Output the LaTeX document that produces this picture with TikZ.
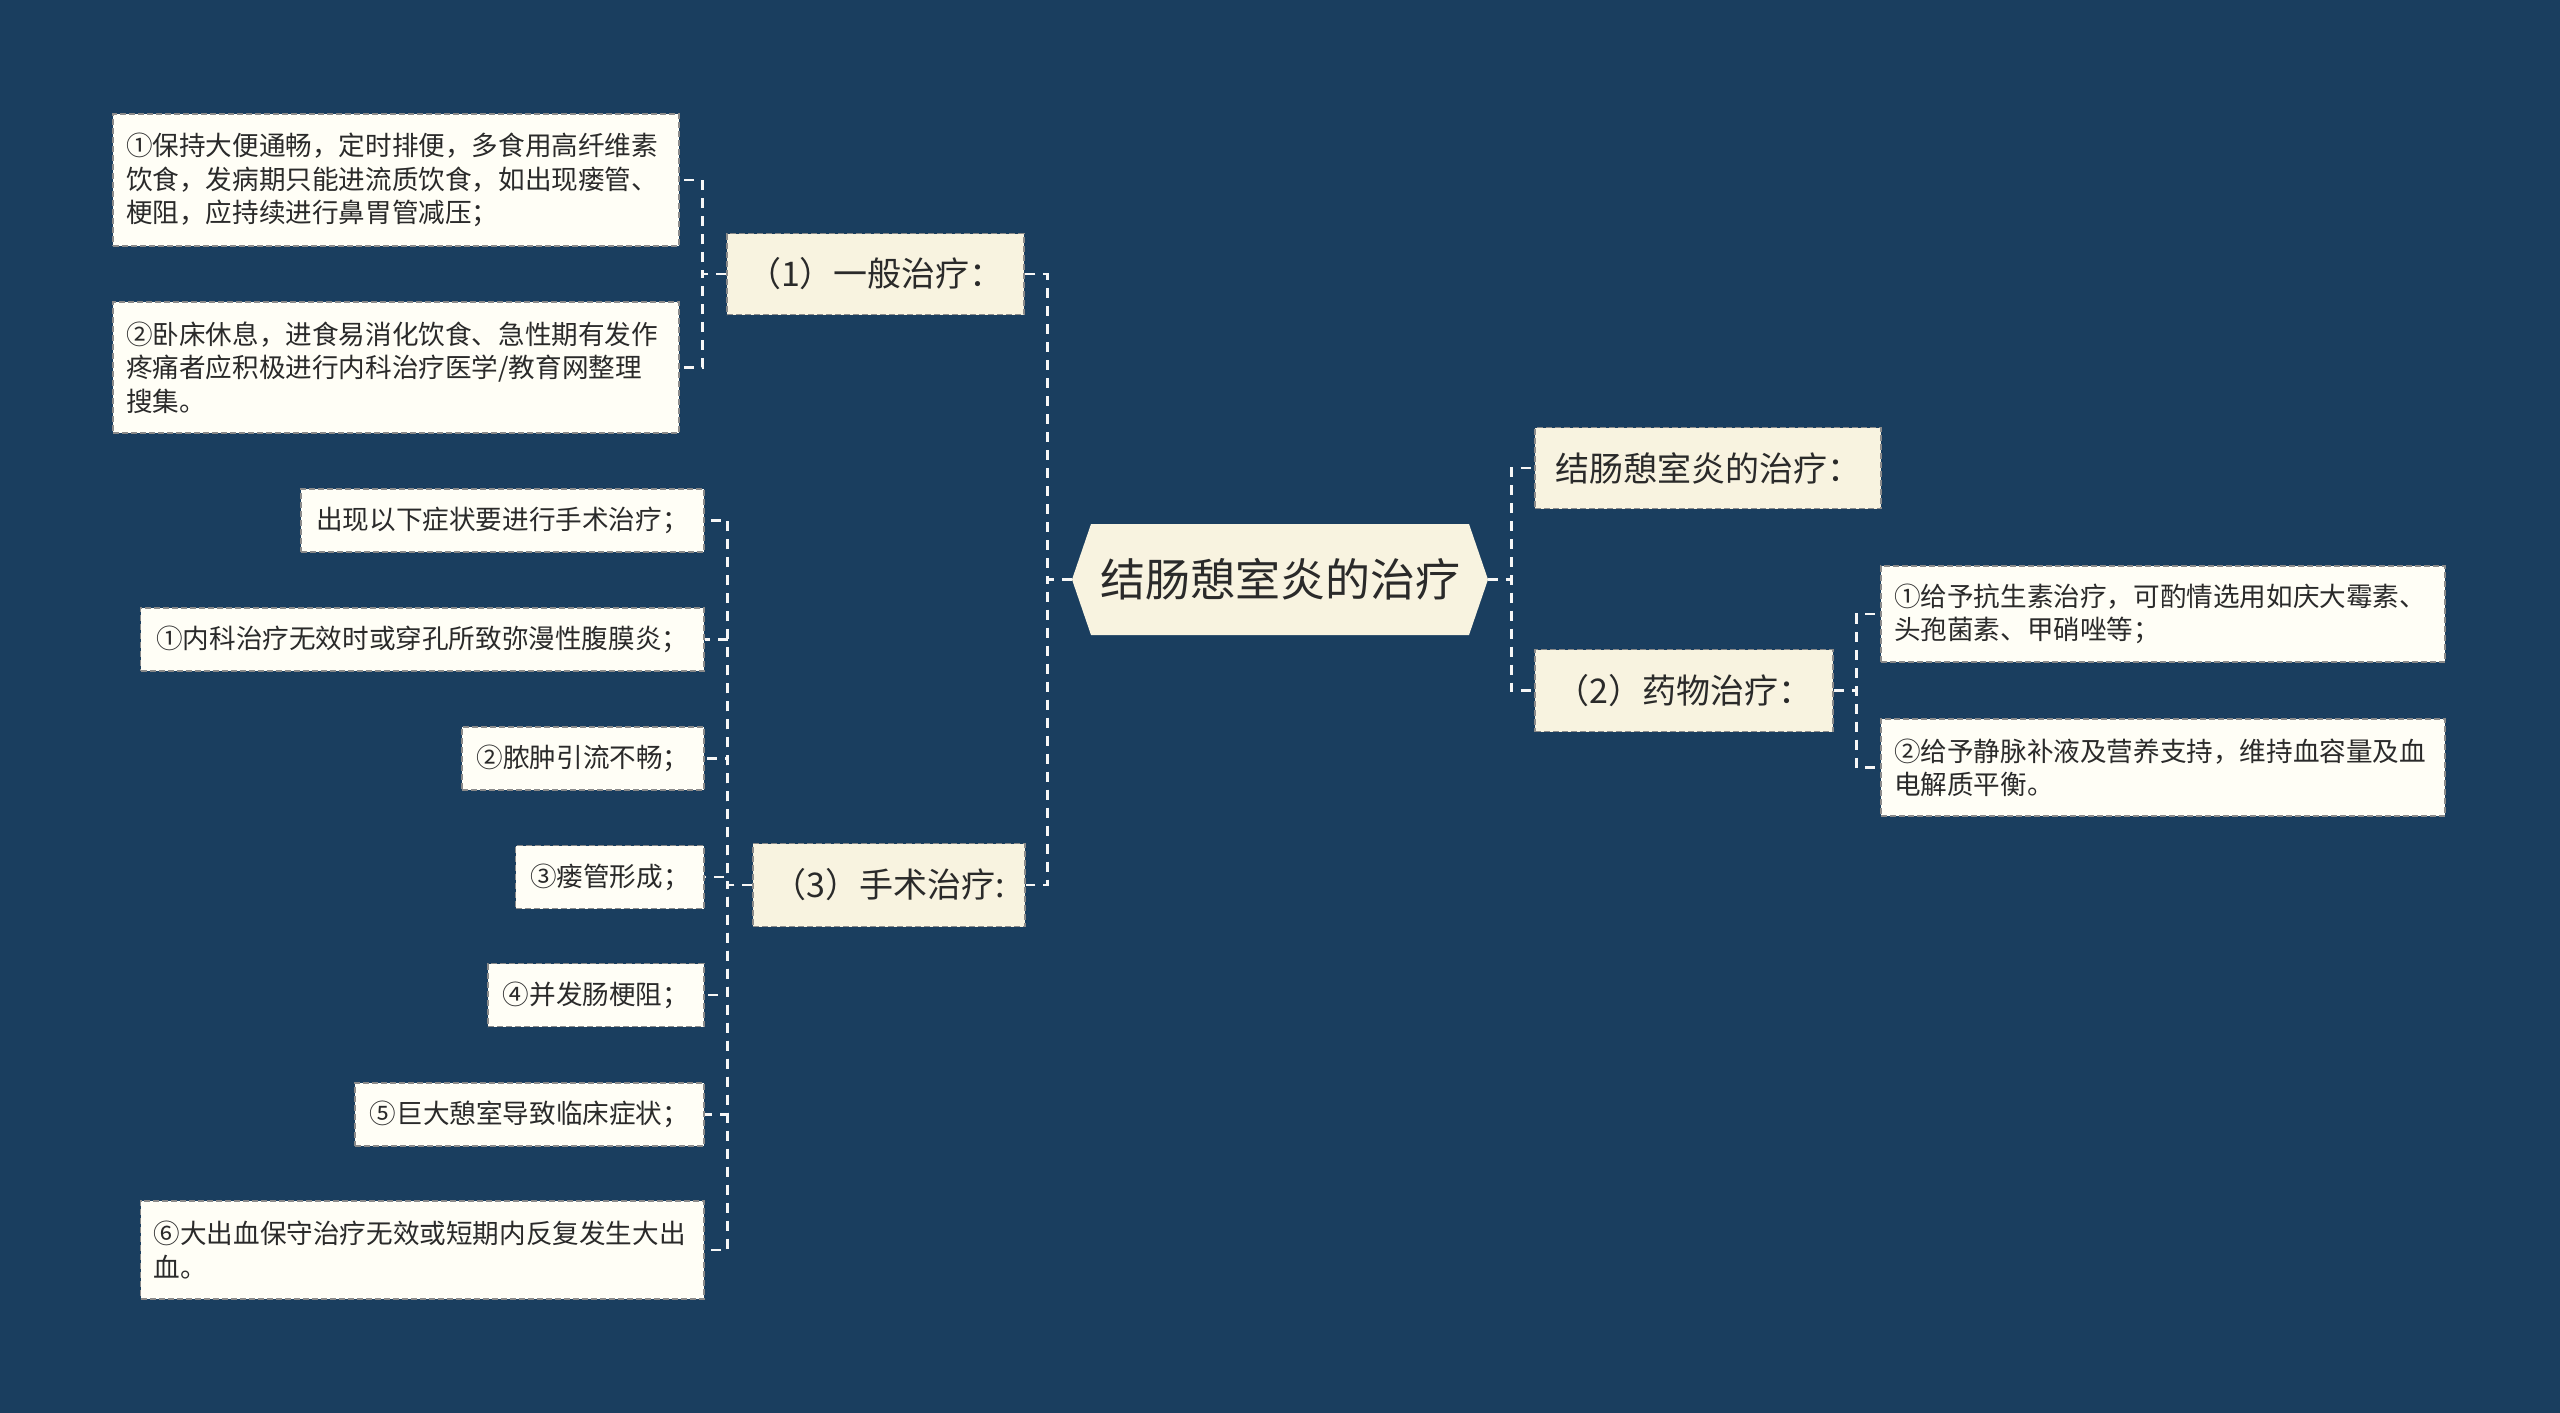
\documentclass[tikz,border=0pt]{standalone}
\usepackage{fontspec}
\setmainfont{Noto Sans CJK SC}
\definecolor{bgc}{HTML}{1A3E5F}
\definecolor{leaffill}{HTML}{FFFEF6}
\definecolor{lvlfill}{HTML}{F8F3E0}
\definecolor{boxline}{HTML}{8A8A8A}
\definecolor{txt}{HTML}{2A2A2A}
\definecolor{connc}{HTML}{F6F6F6}
\begin{document}
\begin{tikzpicture}[x=1pt,y=-1pt,
  leaf/.style={draw=boxline, fill=leaffill, dash pattern=on 6pt off 3pt, line width=1.6pt,
    inner xsep=13pt, inner ysep=4pt, text=txt, font=\fontsize{26.6}{33.3}\selectfont,
    minimum height=63pt},
  lvl/.style={draw=boxline, fill=lvlfill, dash pattern=on 6pt off 3pt, line width=1.6pt,
    inner sep=2pt, text=txt, font=\fontsize{34}{40}\selectfont, minimum height=81pt},
  rootnode/.style={fill=bgc, inner sep=0pt, minimum width=416pt, minimum height=111pt,
    text=txt, font=\fontsize{45}{54}\selectfont,
    path picture={\fill[lvlfill] ([xshift=19pt]path picture bounding box.north west)
      -- ([xshift=-19pt]path picture bounding box.north east)
      -- (path picture bounding box.east)
      -- ([xshift=-19pt]path picture bounding box.south east)
      -- ([xshift=19pt]path picture bounding box.south west)
      -- (path picture bounding box.west) -- cycle;}},
  conn/.style={draw=connc, line width=2.8pt, dash pattern=on 10pt off 8pt}
]
\useasboundingbox (0,0) rectangle (2560,1413);
\fill[bgc] (0,0) rectangle (2560,1413);

% root
\node[rootnode] (root) at (1280,579.5) {结肠憩室炎的治疗};

% level 1
\node[lvl, minimum width=297pt] (n1) at (875.5,274) {（1）一般治疗：};
\node[lvl, minimum width=272pt, minimum height=83pt] (n3) at (889,885) {（3）手术治疗:};
\node[lvl, minimum width=346pt] (nA) at (1708,468) {结肠憩室炎的治疗：};
\node[lvl, minimum width=298pt, minimum height=82pt] (n2) at (1684,690.5) {（2）药物治疗：};

% leaves of (1)
\node[leaf, text width=540pt, align=left, minimum height=132pt] (a1) at (396,180)
  {①保持大便通畅，定时排便，多食用高纤维素\\饮食，发病期只能进流质饮食，如出现瘘管、\\梗阻，应持续进行鼻胃管减压；};
\node[leaf, text width=540pt, align=left, minimum height=131pt] (a2) at (396,367.5)
  {②卧床休息，进食易消化饮食、急性期有发作\\疼痛者应积极进行内科治疗医学/教育网整理\\搜集。};

% leaves of (3)
\node[leaf, minimum width=403pt] (c0) at (502.5,520.5) {出现以下症状要进行手术治疗；};
\node[leaf, minimum width=563.4pt] (c1) at (422.3,639.5) {①内科治疗无效时或穿孔所致弥漫性腹膜炎；};
\node[leaf, minimum width=242pt] (c2) at (583,758.5) {②脓肿引流不畅；};
\node[leaf, minimum width=188.4pt] (c3) at (609.8,877) {③瘘管形成；};
\node[leaf, minimum width=216pt] (c4) at (596,995) {④并发肠梗阻；};
\node[leaf, minimum width=349.2pt] (c5) at (529.4,1114.5) {⑤巨大憩室导致临床症状；};
\node[leaf, text width=537.4pt, align=left, minimum height=98pt] (c6) at (422.3,1250)
  {⑥大出血保守治疗无效或短期内反复发生大出\\血。};

% leaves of (2)
\node[leaf, text width=538pt, align=left, minimum height=96pt] (d1) at (2163,614)
  {①给予抗生素治疗，可酌情选用如庆大霉素、\\头孢菌素、甲硝唑等；};
\node[leaf, text width=538pt, align=left, minimum height=97pt] (d2) at (2163,767.5)
  {②给予静脉补液及营养支持，维持血容量及血\\电解质平衡。};

% connectors
\foreach \c in {n1,n3}
  \draw[conn] (root.west) -- ++(-24,0) |- (\c.east);
\foreach \c in {nA,n2}
  \draw[conn] (root.east) -- ++(23,0) |- (\c.west);
\foreach \c in {a1,a2}
  \draw[conn] (n1.west) -- ++(-24,0) |- (\c.east);
\foreach \c in {c0,c1,c2,c3,c4,c5,c6}
  \draw[conn] (n3.west) -- ++(-24.4,0) |- (\c.east);
\foreach \c in {d1,d2}
  \draw[conn] (n2.east) -- ++(23,0) |- (\c.west);
\end{tikzpicture}
\end{document}
